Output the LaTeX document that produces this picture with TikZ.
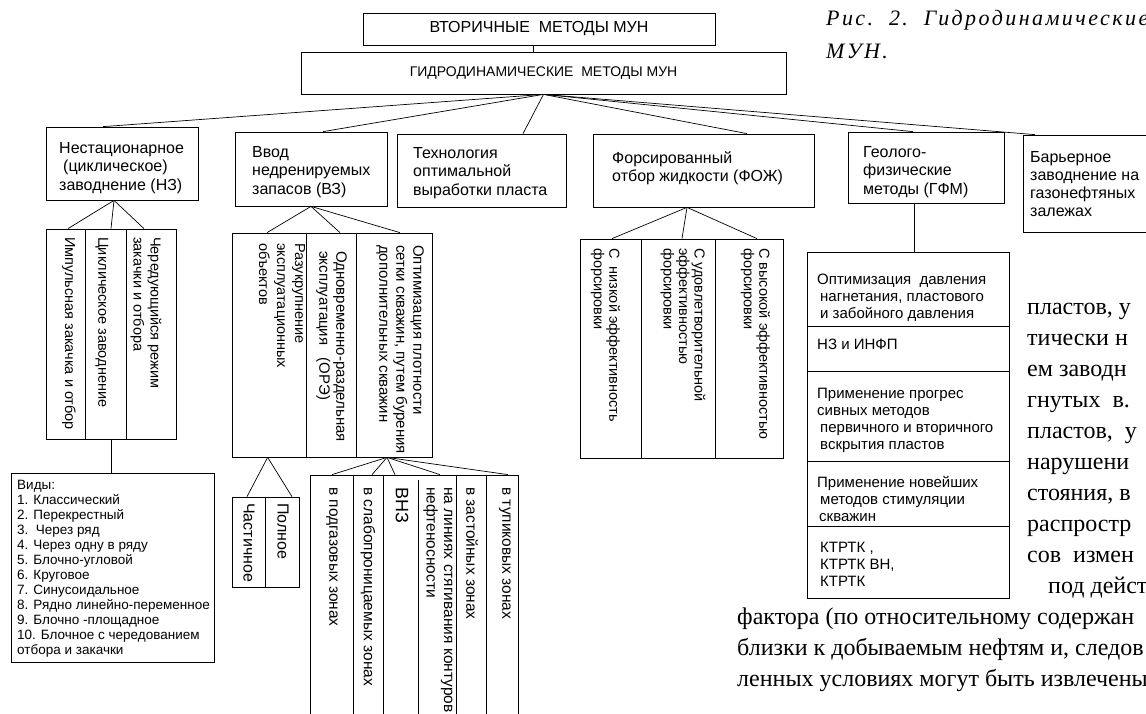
\documentclass[tikz,border=0pt]{standalone}
\usepackage{fontspec}
\setmainfont{Liberation Sans}
\newfontfamily\serifrm{Liberation Serif}
\newfontfamily\capfont[LetterSpace=11.0]{Liberation Serif}
\begin{document}
\begin{tikzpicture}[x=1pt,y=-1pt]
\tikzset{
  bx/.style={draw=black, line width=0.75pt, inner sep=0pt},
  cn/.style={draw=black, line width=0.7pt},
  tl/.style={inner sep=0pt, anchor=north west, align=left},
  rt/.style={inner sep=0pt, anchor=west, align=left, rotate=-90},
  fA/.style={font=\fontsize{16}{18.5}\selectfont},
  fB/.style={font=\fontsize{14.5}{17}\selectfont},
  fC/.style={font=\fontsize{15}{17}\selectfont},
  fL/.style={font=\fontsize{15}{17}\selectfont},
  body/.style={anchor=base west, inner sep=0pt, font=\serifrm\fontsize{24}{31}\selectfont},
  capt/.style={anchor=base west, inner sep=0pt, font=\capfont\itshape\fontsize{22}{28}\selectfont}
}
\useasboundingbox (0,0) rectangle (1146,713);
\fill[white] (0,0) rectangle (1146,713);
\clip (0,0) rectangle (1146,713);

% top boxes
\node[bx, minimum width=352pt, minimum height=32pt, font=\fontsize{16}{19}\selectfont] (a) at (539,29) {ВТОРИЧНЫЕ\ \ МЕТОДЫ МУН};
\node[bx, minimum width=485pt, minimum height=42pt, font=\fontsize{14}{17}\selectfont] (b) at (543.5,73) {ГИДРОДИНАМИЧЕСКИЕ\ \ МЕТОДЫ МУН};
\draw[cn] ([xshift=-6pt]a.south) -- ([xshift=-6pt]a.south |- b.north);

% caption
\node[capt] (cap1) at (826,25) {Рис.\ \ 2.\ \ Гидродинамические};
\node[capt] (cap2) at (826,58) {МУН.};

% level 2
\node[bx, minimum width=152pt, minimum height=73pt] (nz) at (122,163.5) {};
\node[tl, fA] (nzt) at (59,142) {Нестационарное\\\hspace*{4pt}(циклическое)\\заводнение (НЗ)};
\node[bx, minimum width=152pt, minimum height=74pt] (vz) at (311,169) {};
\node[tl, fA] (vzt) at (252,146) {Ввод\\недренируемых\\запасов (ВЗ)};
\node[bx, minimum width=169pt, minimum height=73pt] (tech) at (481.5,170.5) {};
\node[tl, fA] (techt) at (413,147) {Технология\\оптимальной\\выработки пласта};
\node[bx, minimum width=221pt, minimum height=73pt] (foj) at (703.5,170.5) {};
\node[tl, fA] (fojt) at (612,151) {Форсированный\\отбор жидкости (ФОЖ)};
\node[bx, minimum width=156pt, minimum height=71pt] (gfm) at (926,167.5) {};
\node[tl, fA] (gfmt) at (863,146) {Геолого-\\физические\\методы (ГФМ)};
\node[bx, minimum width=147pt, minimum height=97pt] (bar) at (1096.5,183.5) {};
\node[tl, font=\fontsize{16}{18}\selectfont] (bart) at (1030,151) {Барьерное\\заводнение на\\газонефтяных\\залежах};

\draw[cn] (b.south) -- ([xshift=-19pt]nz.north);
\draw[cn] (b.south) -- ([xshift=12pt]vz.north);
\draw[cn] (b.south) -- ([xshift=41.5pt]tech.north);
\draw[cn] (b.south) -- ([xshift=43.5pt]foj.north);
\draw[cn] (b.south) -- ([xshift=-13pt]gfm.north);
\draw[cn] (b.south) -- ([xshift=-61.5pt]bar.north);

% NZ columns
\node[bx, minimum width=130pt, minimum height=210pt] (nzc) at (111,334) {};
\draw[cn] ([xshift=40pt]nzc.north west) -- ([xshift=40pt]nzc.south west);
\draw[cn] ([xshift=81pt]nzc.north west) -- ([xshift=81pt]nzc.south west);
\draw[cn] ([xshift=-8pt]nz.south) -- ([xshift=-43pt]nzc.north);
\draw[cn] ([xshift=-8pt]nz.south) -- (nzc.north);
\draw[cn] ([xshift=-8pt]nz.south) -- ([xshift=33pt]nzc.north);
\node[rt, fB] (nzc1) at (69,237) {Импульсная закачка и отбор};
\node[rt, fB] (nzc2) at (102,237) {Циклическое заводнение};
\node[rt, fB] (nzc3) at (146,237) {Чередующийся режим\\закачки и отбора};

% Vidy
\node[bx, minimum width=203pt, minimum height=189pt] (vid) at (112.5,567.5) {};
\draw[cn] (nzc.south) -- (nzc.south |- vid.north);
\node[tl, font=\fontsize{13.5}{15}\selectfont] (vidt) at (17,480) {Виды:\\1. Классический\\2. Перекрестный\\3.\ \ Через ряд\\4. Через одну в ряду\\5. Блочно-угловой\\6. Круговое\\7. Синусоидальное\\8. Рядно линейно-переменное\\9. Блочно -площадное\\10. Блочное с чередованием\\отбора и закачки};

% VZ columns
\node[bx, minimum width=200pt, minimum height=224pt] (vzc) at (332,345) {};
\draw[cn] ([xshift=75pt]vzc.north west) -- ([xshift=75pt]vzc.south west);
\draw[cn] ([xshift=125pt]vzc.north west) -- ([xshift=125pt]vzc.south west);
\draw[cn] (vz.south) -- ([xshift=-65pt]vzc.north);
\draw[cn] (vz.south) -- ([xshift=8pt]vzc.north);
\draw[cn] (vz.south) -- ([xshift=68pt]vzc.north);
\node[rt, font=\fontsize{14.5}{18}\selectfont] (vzc1) at (282,243) {Разукрупнение\\эксплуатационных\\объектов};
\node[rt, font=\fontsize{15}{17}\selectfont] (vzc2) at (331.5,251) {Одновременно-раздельная\\эксплуатация\ \ \ (ОРЭ)};
\node[rt, fC] (vzc3) at (400,245) {Оптимизация плотности\\сетки скважин, путем бурения\\дополнительных скважин};

% partial / full
\node[bx, minimum width=67pt, minimum height=90pt] (pp) at (265.5,542) {};
\draw[cn] ([xshift=34pt]pp.north west) -- ([xshift=34pt]pp.south west);
\draw[cn] ([xshift=36pt]vzc.south west) -- ([xshift=-18.5pt]pp.north);
\draw[cn] ([xshift=36pt]vzc.south west) -- ([xshift=26.5pt]pp.north);
\node[rt, fA] (pp1) at (249,503) {Частичное};
\node[rt, fA] (pp2) at (283,503) {Полное};

% zones
\node[bx, minimum width=208pt, minimum height=255pt] (zz) at (414,602.5) {};
\draw[cn] ([xshift=44pt]zz.north west) -- ([xshift=44pt]zz.south west);
\draw[cn] ([xshift=74pt]zz.north west) -- ([xshift=74pt]zz.south west);
\draw[cn] ([xshift=109pt,yshift=-5pt]zz.north west) -- ([xshift=109pt]zz.south west);
\draw[cn] ([xshift=147pt]zz.north west) -- ([xshift=147pt]zz.south west);
\draw[cn] ([xshift=177pt]zz.north west) -- ([xshift=177pt]zz.south west);
\draw[cn] ([xshift=55pt]vzc.south) -- ([xshift=-82pt]zz.north);
\draw[cn] ([xshift=55pt]vzc.south) -- ([xshift=-42pt]zz.north);
\draw[cn] ([xshift=55pt]vzc.south) -- ([xshift=-19pt]zz.north);
\draw[cn] ([xshift=55pt]vzc.south) -- ([xshift=26pt]zz.north);
\draw[cn] ([xshift=55pt]vzc.south) -- ([xshift=94pt]zz.north);
\node[rt, font=\fontsize{15.5}{17}\selectfont] (zz1) at (332,487) {в подгазовых зонах};
\node[rt, font=\fontsize{15.5}{17}\selectfont] (zz2) at (368,487) {в слабопроницаемых зонах};
\node[rt, font=\fontsize{18}{20}\selectfont] (zz3) at (402,487) {ВНЗ};
\node[rt, font=\fontsize{15.5}{17.5}\selectfont] (zz4) at (438,487) {на линиях стягивания контуров\\нефтеносности};
\node[rt, font=\fontsize{15.5}{17}\selectfont] (zz5) at (472,487) {в застойных зонах};
\node[rt, font=\fontsize{15.5}{17}\selectfont] (zz6) at (505,487) {в тупиковых зонах};

% FOJ columns
\node[bx, minimum width=203pt, minimum height=219pt] (fojc) at (681.5,348.5) {};
\draw[cn] ([xshift=62pt]fojc.north west) -- ([xshift=62pt]fojc.south west);
\draw[cn] ([xshift=136pt]fojc.north west) -- ([xshift=136pt]fojc.south west);
\draw[cn] ([xshift=-16.5pt]foj.south) -- ([xshift=-69.5pt]fojc.north);
\draw[cn] ([xshift=-16.5pt]foj.south) -- ([xshift=0.5pt]fojc.north);
\draw[cn] ([xshift=-16.5pt]foj.south) -- ([xshift=75.5pt]fojc.north);
\node[rt, font=\fontsize{14.5}{15.5}\selectfont] (fojc1) at (605.5,248) {С\ \ низкой эффективность\\форсировки};
\node[rt, font=\fontsize{14.5}{15.5}\selectfont] (fojc2) at (683,248) {С удовлетворительной\\эффективностью\\форсировки};
\node[rt, font=\fontsize{14.5}{15.5}\selectfont] (fojc3) at (755.5,248) {С высокой эффективностью\\форсировки};

% GFM list
\node[bx, minimum width=202pt, minimum height=346pt] (lst) at (908,425) {};
\draw[cn] ([xshift=-12pt]gfm.south) -- ([xshift=-12pt]gfm.south |- lst.north);
\draw[cn] ([yshift=-75pt]lst.north west) -- ([yshift=-75pt]lst.north east);
\draw[cn] ([yshift=-120pt]lst.north west) -- ([yshift=-120pt]lst.north east);
\draw[cn] ([yshift=-210pt]lst.north west) -- ([yshift=-210pt]lst.north east);
\draw[cn] ([yshift=-275pt]lst.north west) -- ([yshift=-275pt]lst.north east);
\node[tl, fL] (l1) at (817,274) {Оптимизация\ \ давления\\\hspace*{3pt}нагнетания, пластового\\\hspace*{3pt}и забойного давления};
\node[tl, fL] (l2) at (817,339) {НЗ и ИНФП};
\node[tl, fL] (l3) at (817,388) {Применение прогрес\\сивных методов\\\hspace*{3pt}первичного и вторичного\\\hspace*{3pt}вскрытия пластов};
\node[tl, fL] (l4) at (817,476) {Применение новейших\\\hspace*{3pt}методов стимуляции\\\hspace*{2pt}скважин};
\node[tl, fL] (l5) at (820,542) {КТРТК ,\\КТРТК ВН,\\КТРТК};

% body text
\node[body] (p1) at (1027,314) {пластов, у};
\node[body] (p2) at (1027,345) {тически н};
\node[body] (p3) at (1027,376) {ем заводн};
\node[body] (p4) at (1027,407) {гнутых\ \ в.};
\node[body] (p5) at (1027,438) {пластов,\ \ у};
\node[body] (p6) at (1027,469) {нарушени};
\node[body] (p7) at (1027,500) {стояния, в};
\node[body] (p8) at (1027,531) {распростр};
\node[body] (p9) at (1027,562) {сов\ \ измен};
\node[body] (p10) at (1048,593) {под дейст};
\node[body] (p11) at (737,624) {фактора (по относительному содержан};
\node[body] (p12) at (737,655) {близки к добываемым нефтям и, следов};
\node[body] (p13) at (737,686) {ленных условиях могут быть извлечены};
\end{tikzpicture}
\end{document}
